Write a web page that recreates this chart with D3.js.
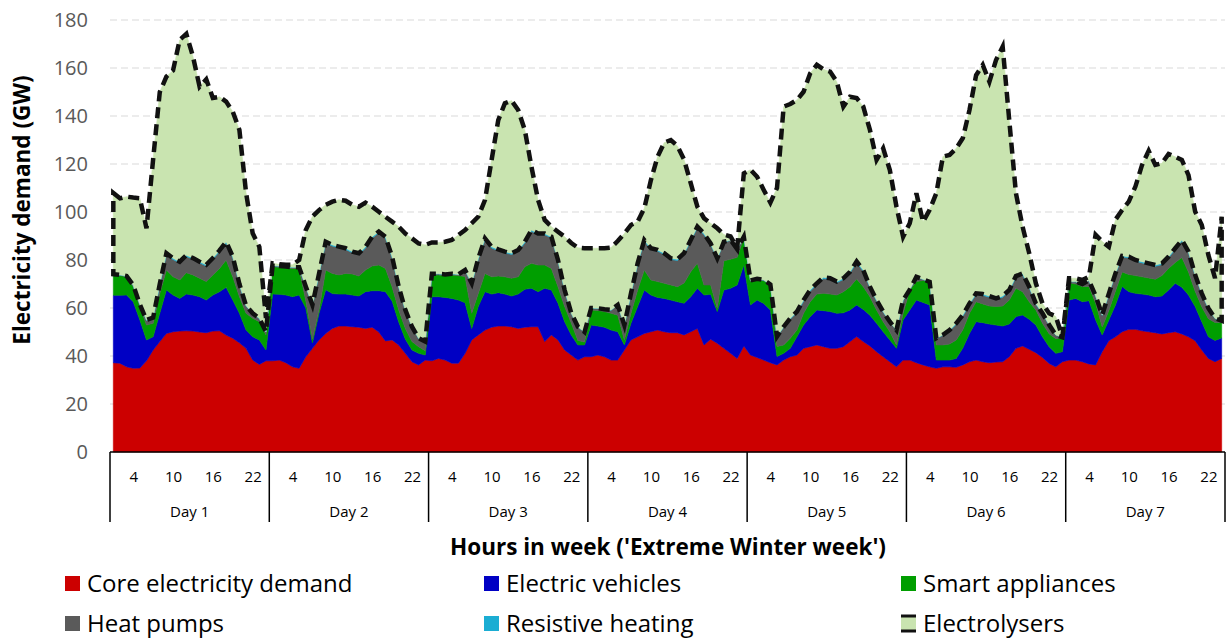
<!DOCTYPE html>
<html>
<head>
<meta charset="utf-8">
<script src="https://cdn.jsdelivr.net/npm/d3@7"></script>
<style>
body { margin: 0; background: #fff; }
text { font-family: "Open Sans", "Noto Sans", sans-serif; }
</style>
</head>
<body>
<div id="chart"></div>
<script>
// categories
var days = ["Day 1", "Day 2", "Day 3", "Day 4", "Day 5", "Day 6", "Day 7"];
var hoursPerDay = 24;
var hourTicks = [4, 10, 16, 22];
var yTicks = [0, 20, 40, 60, 80, 100, 120, 140, 160, 180];

// series values (GW), one row per day, hours 1..24
var core = [
  37.2, 37, 35.5, 34.9, 35, 38, 42.5, 46, 49.4, 50.1, 50.4, 50.5, 50.4, 50, 49.7, 50.4, 50.5, 48.7, 47.4, 45.5, 43.2, 38.3, 36.5, 38,
  38, 38.3, 37.2, 35.5, 34.9, 39.7, 43.2, 46.7, 49.4, 51.5, 52.5, 52.5, 52.2, 52, 51.5, 52, 50, 46.3, 46.7, 44.6, 41.1, 37.6, 36.3, 38.3,
  38, 39, 38.3, 37, 37, 41.1, 46.7, 48.8, 50.8, 52, 52.5, 52.5, 52.2, 51.5, 52, 52.2, 52.2, 46, 48.8, 46.7, 42.5, 40.4, 38.3, 39.7,
  39.7, 40.4, 39.7, 38.3, 38.3, 42.5, 46.7, 48, 49.4, 50.1, 50.8, 50.1, 49.7, 49.7, 48.8, 50.1, 51.5, 44.6, 47, 45.3, 43.2, 41.1, 39, 44.2,
  40.4, 39.4, 38.3, 37.2, 36.3, 38.3, 39.7, 40.4, 43.2, 43.9, 44.6, 43.9, 43.2, 43.2, 43.9, 46, 48.1, 46, 44.2, 41.8, 39.7, 37.6, 35.5, 38.3,
  38.3, 37.2, 36.3, 35.5, 34.9, 35.5, 35.5, 35.3, 36.3, 37.6, 38.3, 37.6, 37.2, 37.5, 37.6, 39.7, 43.2, 44.2, 42.8, 41.4, 39.4, 36.9, 35.5, 37.6,
  38.3, 38.3, 37.6, 36.7, 36.3, 41.8, 46.4, 48, 50.1, 51.1, 51.1, 50.5, 50.1, 49.7, 49.2, 49.7, 50.1, 49.2, 48, 46.4, 42.5, 39, 37.6, 39
];
var electricVehicles = [
  28.1, 28.3, 29.9, 27.7, 20, 8.7, 5.5, 11.8, 18.1, 15.3, 13.6, 15.3, 15, 14.7, 13.6, 15, 16.3, 19.9, 15.9, 12.3, 7.6, 9.7, 10.2, 4.5,
  27.8, 27.4, 28.2, 29.2, 30.5, 20.3, 2.3, 11.1, 18.2, 14.5, 13.3, 13.3, 13.2, 13, 15.3, 15.2, 17.2, 20.5, 16.2, 9.6, 5.9, 4.9, 4.8, 2.1,
  26.7, 25.7, 26.1, 27, 26.3, 21.1, 4.8, 11.9, 16, 13.8, 13.9, 13.3, 12.8, 14.3, 15.8, 16, 14.6, 22.2, 18.7, 15.3, 11.8, 8.4, 6.3, 4.9,
  13.2, 12.1, 12.3, 12.5, 11.8, 2.1, 6.9, 12.6, 18.1, 15.3, 13.6, 13.9, 13.6, 12.9, 13.2, 14.6, 16.7, 20.8, 18.7, 13.2, 24.3, 27.1, 30.6, 33.7,
  20.9, 23.9, 23.6, 22, 3.5, 2.8, 3.5, 7.6, 9.7, 12.5, 14.6, 15, 15.3, 14.6, 14.1, 13.2, 13.2, 13.4, 12.8, 11.8, 10.4, 9.1, 7.7, 16.7,
  20.9, 26.1, 26, 25.8, 3.4, 2.8, 2.8, 3.7, 7, 11.8, 16, 16.3, 16.1, 15.4, 14.9, 13.6, 13.2, 12.9, 12.5, 11.5, 8.6, 7, 5.6, 4.2,
  25, 25.7, 25, 26.3, 18.8, 7, 8.6, 13.3, 18.9, 15.7, 15, 15.3, 15.3, 15, 15.8, 17.8, 20.2, 19.4, 17.4, 14.2, 11.8, 9, 8.9, 8.5
];
var smartAppliances = [
  8.5, 8.2, 7.6, 6.3, 5.6, 6.2, 5.6, 8.2, 8.3, 7.6, 7.7, 8.9, 8.4, 7.7, 7.7, 8.4, 9.7, 11.4, 9.7, 6.9, 7, 7.7, 7.6, 6.3,
  11.4, 11.3, 11.4, 11.8, 11.1, 3, 1.5, 1.5, 8.2, 8.4, 8, 8.6, 8.8, 8.3, 9, 10.3, 10.7, 9.7, 6, 5, 4.5, 3.5, 2.8, 1.8,
  9.1, 9.1, 9.1, 9.8, 10.2, 10.9, 6.3, 5.4, 7.6, 7.2, 6.9, 7.2, 7.4, 7.2, 9.4, 10.4, 11.1, 9.7, 9, 6.9, 6.3, 4.9, 1.9, 1.2,
  6.3, 6.5, 6.5, 7, 6.9, 2.1, 4.2, 6.9, 8.3, 6.3, 6.6, 6.3, 6.3, 6.3, 8.4, 10.4, 10.4, 4.2, 3.9, 1.4, 12.2, 12.1, 11.5, 11.5,
  9.8, 8.7, 9.5, 10.4, 4.2, 3.5, 4.2, 2.8, 4.9, 6.2, 6.6, 7.2, 7.3, 7.6, 8.8, 9.7, 10.8, 9.5, 7.7, 5.6, 4.2, 3.4, 1.4, 2.8,
  8.3, 7.7, 9.2, 9.4, 6.3, 6.3, 6.7, 7.7, 7.6, 8.4, 8.3, 7.8, 7.5, 7.7, 8.3, 10, 11.8, 9.7, 7.3, 6.3, 5.6, 5.4, 6.1, 5.7,
  7.2, 6, 6.4, 6, 7, 3.3, 4, 5.8, 6, 7.2, 7.4, 7.2, 7.1, 7.3, 8.5, 9, 8.7, 12.4, 9.6, 6.4, 6.2, 7.5, 7.5, 6.5
];
var heatPumps = [
  0.2, 0.2, 0.2, 0.5, 0.8, 1.9, 2.1, 3.6, 6.5, 7.2, 7.1, 6.8, 6.5, 6.4, 6.5, 6.5, 7, 7.1, 8, 5, 3, 2, 1.3, 1.2,
  0.4, 0.4, 0.4, 0.4, 0.4, 5.8, 14, 14.7, 11.3, 11.4, 11.3, 10, 8.8, 9, 9.2, 11.7, 13.4, 12.7, 12.1, 9.4, 7.5, 6.1, 3.4, 3.7,
  0.4, 0.4, 0.4, 0.4, 0.4, 2.5, 12.2, 14.3, 14.1, 12, 10.6, 10, 9.9, 10.7, 9.9, 13.4, 12.6, 12.6, 12.8, 10.8, 6.7, 4.1, 5.6, 4.1,
  0.7, 0.8, 0.9, 1.3, 4.2, 6, 8, 10.7, 12, 12.7, 12.7, 12, 10.6, 10.9, 12, 12.7, 14.8, 20.9, 16.9, 20.5, 7.7, 7.9, 3.3, 0.2,
  0.3, 0.1, 0.2, 0.1, 4, 7.4, 8, 7.3, 5, 4.4, 4, 6.2, 6.1, 5.1, 5.1, 5.7, 6.8, 6.4, 3.8, 3.8, 4, 4.1, 6.1, 5.4,
  0, 1.9, 0.4, 0.1, 2.7, 4, 5.5, 6.5, 5.7, 3.6, 3, 3.6, 3.7, 2.9, 3.7, 3.7, 4.6, 7.1, 5.9, 2.4, 4, 3.6, 1.5, 0.2,
  0.4, 0.9, 0.9, 2.4, 2.9, 4.8, 6.7, 7, 6.2, 6.9, 6, 5.8, 5.6, 5.4, 4.6, 4.4, 5.4, 6.8, 8.1, 6.5, 5.4, 4.3, 1.6, 0.6
];
var resistiveHeating = [
  0.1, 0.1, 0.1, 0.1, 0.1, 0.2, 0.3, 0.4, 0.5, 0.5, 0.5, 0.5, 0.5, 0.5, 0.5, 0.5, 0.5, 0.5, 0.4, 0.3, 0.2, 0.1, 0.1, 0.1,
  0.1, 0.1, 0.1, 0.1, 0.1, 0.2, 0.3, 0.4, 0.5, 0.5, 0.5, 0.5, 0.5, 0.5, 0.5, 0.5, 0.5, 0.5, 0.4, 0.3, 0.2, 0.1, 0.1, 0.1,
  0.1, 0.1, 0.1, 0.1, 0.1, 0.2, 0.3, 0.4, 0.5, 0.5, 0.5, 0.5, 0.5, 0.5, 0.5, 0.5, 0.5, 0.5, 0.4, 0.3, 0.2, 0.1, 0.1, 0.1,
  0.1, 0.1, 0.1, 0.1, 0.1, 0.2, 0.3, 0.4, 0.5, 0.5, 0.5, 0.5, 0.5, 0.5, 0.5, 0.5, 0.5, 0.5, 0.4, 0.3, 0.2, 0.1, 0.1, 0.1,
  0.1, 0.1, 0.1, 0.1, 0.1, 0.2, 0.3, 0.4, 0.5, 0.5, 0.5, 0.5, 0.5, 0.5, 0.5, 0.5, 0.5, 0.5, 0.4, 0.3, 0.2, 0.1, 0.1, 0.1,
  0.1, 0.1, 0.1, 0.1, 0.1, 0.2, 0.3, 0.4, 0.5, 0.5, 0.5, 0.5, 0.5, 0.5, 0.5, 0.5, 0.5, 0.5, 0.4, 0.3, 0.2, 0.1, 0.1, 0.1,
  0.1, 0.1, 0.1, 0.1, 0.1, 0.2, 0.3, 0.4, 0.5, 0.5, 0.5, 0.5, 0.5, 0.5, 0.5, 0.5, 0.5, 0.5, 0.4, 0.3, 0.2, 0.1, 0.1, 0.1
];
var electrolysers = [
  33.8, 31.9, 33.1, 36.5, 44.2, 38.2, 66, 80, 73.6, 78.3, 92.4, 92.2, 84, 72.9, 77.3, 66.7, 64, 58.4, 60.4, 64.2, 47, 33.3, 29.8, 5.7,
  0.9, 0.7, 0.7, 1, 3, 23.5, 36.8, 26.4, 15.4, 18, 19.5, 19.8, 19.5, 19.4, 18.4, 12.5, 8.3, 8.3, 14.6, 25, 31.8, 36.8, 39.5, 40.3,
  13, 13, 13.6, 14.1, 16.4, 16.7, 25, 17.3, 16, 36.2, 53.9, 61.8, 63.6, 58.3, 46.6, 26.4, 14, 5.7, 4.2, 11.8, 22.2, 29.2, 32.9, 34.9,
  24.9, 25, 25.4, 26, 26.6, 38.1, 28.5, 17.4, 13.2, 28.4, 38.8, 46.1, 49.3, 47.2, 38.9, 23.7, 8.3, 6.4, 8.4, 12.5, 3, 1.5, 0.5, 26.4,
  46.1, 42.5, 37.5, 34.1, 61.9, 91.7, 89.3, 88.2, 86.8, 90.3, 91, 86.6, 86.1, 83.3, 71.5, 72.9, 68.1, 68.1, 65.3, 58.4, 68, 63.2, 51.4, 26.4,
  27.7, 34.8, 23.9, 30, 60.4, 74.3, 73, 72.9, 73.7, 80.6, 90.9, 95.5, 89.3, 99.3, 103.9, 70.5, 34.5, 19.5, 13.9, 8.4, 4.1, 4.8, 7.7, 0.2,
  1.4, 1.4, 1.7, 1.5, 25.4, 30.6, 19.5, 22.3, 19.1, 22.9, 30.6, 40.3, 46.9, 41.7, 41.7, 42.8, 38.1, 33.4, 31.9, 26.4, 28.5, 22.1, 16.7, 43.3
];

var seriesNames = ["Core electricity demand", "Electric vehicles", "Smart appliances", "Heat pumps", "Resistive heating", "Electrolysers"];
var seriesColors = ["#cc0000", "#0000c4", "#009e00", "#5a5a5a", "#1badd3", "#c9e4b0"];
var keys = ["core", "ev", "smart", "hp", "res", "elec"];

var width = 1226, height = 640;
var plotLeft = 110, plotRight = 1225, plotTop = 20, plotBottom = 452;

var svg = d3.select("#chart")
  .append("svg")
  .attr("width", width)
  .attr("height", height);

var rows = core.map(function(d, i) {
  return {
    i: i,
    core: core[i],
    ev: electricVehicles[i],
    smart: smartAppliances[i],
    hp: heatPumps[i],
    res: resistiveHeating[i],
    elec: electrolysers[i]
  };
});

var layers = d3.stack().keys(keys)(rows);

var x = d3.scalePoint()
  .domain(d3.range(rows.length))
  .range([plotLeft, plotRight])
  .padding(0.5);

var y = d3.scaleLinear()
  .domain([0, 180])
  .range([plotBottom, plotTop]);

var dayScale = d3.scaleBand()
  .domain(days)
  .range([plotLeft, plotRight]);

// gridlines
svg.append("g")
  .selectAll("line")
  .data(yTicks.filter(function(d) { return d > 0; }))
  .enter()
  .append("line")
  .attr("x1", plotLeft)
  .attr("x2", plotRight)
  .attr("y1", function(d) { return y(d); })
  .attr("y2", function(d) { return y(d); })
  .attr("stroke", "#d9d9d9")
  .attr("stroke-width", 1.2)
  .attr("stroke-dasharray", "7,4");

// stacked areas
var area = d3.area()
  .x(function(d) { return x(d.data.i); })
  .y0(function(d) { return y(d[0]); })
  .y1(function(d) { return y(d[1]); });

svg.append("g")
  .selectAll("path")
  .data(layers)
  .enter()
  .append("path")
  .attr("d", area)
  .attr("fill", function(d, i) { return seriesColors[i]; })
  .attr("stroke", function(d, i) { return seriesColors[i]; })
  .attr("stroke-width", 0.6);

// dashed outline round the electrolysers area
svg.append("path")
  .datum(layers[5])
  .attr("d", area)
  .attr("fill", "none")
  .attr("stroke", "#111")
  .attr("stroke-width", 4.5)
  .attr("stroke-dasharray", "11,6");

// y axis labels
var yAxis = d3.axisLeft(y)
  .tickValues(yTicks)
  .tickSize(0)
  .tickPadding(22);

var gy = svg.append("g")
  .attr("transform", "translate(" + plotLeft + ",0)")
  .call(yAxis);
gy.select(".domain").remove();
gy.selectAll("text")
  .attr("fill", "#595959")
  .style("font-size", "20px")
  .style("font-family", "'Open Sans', sans-serif");

svg.append("text")
  .attr("transform", "translate(30," + ((plotTop + plotBottom) / 2 - 26) + ") rotate(-90)")
  .attr("text-anchor", "middle")
  .style("font-size", "22.5px")
  .style("font-weight", "bold")
  .text("Electricity demand (GW)");

// x axis: hour labels
var xAxis = d3.axisBottom(x)
  .tickValues(d3.range(rows.length).filter(function(i) {
    return hourTicks.indexOf(i % hoursPerDay + 1) >= 0;
  }))
  .tickFormat(function(i) { return i % hoursPerDay + 1; })
  .tickSize(0)
  .tickPadding(19);

var gx = svg.append("g")
  .attr("transform", "translate(0," + plotBottom + ")")
  .call(xAxis);
gx.select(".domain").remove();
gx.selectAll("text")
  .attr("fill", "#000")
  .style("font-size", "15px")
  .style("font-family", "'Open Sans', sans-serif");

svg.append("line")
  .attr("x1", plotLeft)
  .attr("x2", plotRight)
  .attr("y1", plotBottom)
  .attr("y2", plotBottom)
  .attr("stroke", "#000")
  .attr("stroke-width", 1.5);

// day separators and labels
var bounds = days.map(function(d) { return dayScale(d); }).concat([plotRight]);
svg.append("g")
  .selectAll("line")
  .data(bounds)
  .enter()
  .append("line")
  .attr("x1", function(d) { return d; })
  .attr("x2", function(d) { return d; })
  .attr("y1", plotBottom)
  .attr("y2", 522)
  .attr("stroke", "#000")
  .attr("stroke-width", 1.5);

svg.append("g")
  .selectAll("text")
  .data(days)
  .enter()
  .append("text")
  .attr("x", function(d) { return dayScale(d) + dayScale.bandwidth() / 2; })
  .attr("y", 517)
  .attr("text-anchor", "middle")
  .style("font-size", "15px")
  .text(function(d) { return d; });

svg.append("text")
  .attr("x", 668)
  .attr("y", 555)
  .attr("text-anchor", "middle")
  .style("font-size", "22.5px")
  .style("font-weight", "bold")
  .text("Hours in week ('Extreme Winter week')");

// legend
var legendX = [65, 484, 901];
var legendY = [576, 616];

var legend = svg.append("g")
  .selectAll("g")
  .data(seriesNames)
  .enter()
  .append("g")
  .attr("transform", function(d, i) {
    return "translate(" + legendX[i % 3] + "," + legendY[Math.floor(i / 3)] + ")";
  });

legend.append("rect")
  .attr("width", 15)
  .attr("height", 15)
  .attr("fill", function(d, i) { return seriesColors[i]; });

legend.filter(function(d, i) { return i === 5; })
  .selectAll("line")
  .data([0, 15])
  .enter()
  .append("line")
  .attr("x1", 0)
  .attr("x2", 15)
  .attr("y1", function(d) { return d; })
  .attr("y2", function(d) { return d; })
  .attr("stroke", "#111")
  .attr("stroke-width", 3);

legend.append("text")
  .attr("x", 22)
  .attr("y", 16)
  .style("font-size", "24px")
  .text(function(d) { return d; });
</script>
</body>
</html>
